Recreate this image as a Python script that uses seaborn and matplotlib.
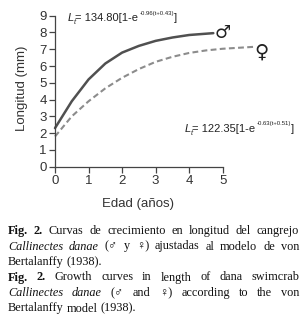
import matplotlib
matplotlib.use("Agg")
import matplotlib.pyplot as plt
import seaborn as sns
import pandas as pd

# ---- data ----
male_t = [0, 0.5, 1, 1.5, 2, 2.5, 3, 3.5, 4, 4.72]
male_L = [2.3, 3.9, 5.2, 6.15, 6.8, 7.2, 7.5, 7.7, 7.85, 7.96]
female_t = [0, 0.5, 1, 1.5, 2, 2.5, 3, 3.5, 4, 4.5, 5, 5.98]
female_L = [1.8, 3.0, 3.9, 4.67, 5.3, 5.82, 6.25, 6.55, 6.78, 6.93, 7.03, 7.15]
x_ticks = [0, 1, 2, 3, 4, 5]
y_ticks = [0, 1, 2, 3, 4, 5, 6, 7, 8, 9]
eq_male = ["L", "t", "= 134.80[1-e", "-0.96(t+0.43)", "]"]
eq_female = ["L", "t", "= 122.35[1-e", "-0.63(t+0.51)", "]"]
x_label = "Edad (años)"
y_label = "Longitud (mm)"

sns.set_style("white")
plt.rcParams["font.family"] = ["Liberation Sans", "DejaVu Sans"]

W, H = 305, 322
fig = plt.figure(figsize=(W / 100, H / 100), dpi=100)
ax = fig.add_axes([55 / W, 1 - 166.7 / H, (222.7 - 55) / W, (166.7 - 15.7) / H])

dm = pd.DataFrame({"t": male_t, "L": male_L})
dfm = pd.DataFrame({"t": female_t, "L": female_L})
sns.lineplot(data=dm, x="t", y="L", ax=ax, color="#505050", lw=1.8)
sns.lineplot(data=dfm, x="t", y="L", ax=ax, color="#8c8c8c", lw=1.5,
             linestyle=(0, (2.8, 1.6)))
for l in ax.lines:
    l.set_clip_on(False)

ax.set_xlim(0, 5)
ax.set_ylim(0, 9)
ax.set_xticks(x_ticks)
ax.set_yticks(y_ticks)
for s in ["top", "right"]:
    ax.spines[s].set_visible(False)
for s in ["left", "bottom"]:
    ax.spines[s].set_color("#444444")
    ax.spines[s].set_linewidth(0.9)
ax.tick_params(axis="both", direction="out", length=4, width=0.9,
               color="#444444", labelsize=9.5, labelcolor="#333333", pad=2)
ax.tick_params(left=True, bottom=True)
ax.set_xlabel(x_label, fontsize=9.5, color="#333333")
ax.set_ylabel(y_label, fontsize=9.5, color="#333333")
ax.xaxis.set_label_coords((138 - 55) / (222.7 - 55), -(197.5 - 166.7) / 151)
ax.yaxis.set_label_coords(-(55 - 28) / (222.7 - 55), 0.52)

r = fig.canvas.get_renderer()


def draw_eq(parts, xpx, basepx):
    specs = [
        (parts[0], 8.0, 0, dict(style="italic"), -0.5),
        (parts[1], 5.3, -3.2, dict(style="italic"), -0.6),
        (parts[2], 8.0, 0, dict(), 1.2),
        (parts[3], 4.3, 6.0, dict(), 0.3),
        (parts[4], 8.0, 0, dict(), 0),
    ]
    x = xpx
    for txt, fs, dy, st, after in specs:
        t = fig.text(x / W, 1 - (basepx - dy) / H, txt, fontsize=fs,
                     color="#222222", va="baseline", ha="left", **st)
        x += t.get_window_extent(r).width + after


draw_eq(eq_male, 68, 21)
draw_eq(eq_female, 185, 131.5)

ax.text(4.99, 7.96, "♂", fontsize=13, color="#222222", va="center",
        ha="center", family=["DejaVu Sans"], clip_on=False)
ax.text(6.17, 6.85, "♀", fontsize=14, color="#222222", va="center",
        ha="center", family=["DejaVu Sans"], clip_on=False)

# ---- caption ----
B = dict(weight="bold")
I = dict(style="italic")
N = dict()
lines = [
    ([("Fig.", B), ("2.", B), ("Curvas", N), ("de", N), ("crecimiento", N), ("en", N),
      ("longitud", N), ("del", N), ("cangrejo", N)], 234, True),
    ([("Callinectes", I), ("danae", I), ("(♂", N), ("y", N), ("♀)", N), ("ajustadas", N),
      ("al", N), ("modelo", N), ("de", N), ("von", N)], 249.5, True),
    ([("Bertalanffy", N), ("(1938).", N)], 265, False),
    ([("Fig.", B), ("2.", B), ("Growth", N), ("curves", N), ("in", N), ("length", N),
      ("of", N), ("dana", N), ("swimcrab", N)], 280.5, True),
    ([("Callinectes", I), ("danae", I), ("(♂", N), ("and", N), ("♀)", N), ("according", N),
      ("to", N), ("the", N), ("von", N)], 296, True),
    ([("Bertalanffy", N), ("model", N), ("(1938).", N)], 311.5, False),
]
cap_fs = 8.8
x0, x1 = 8, 299
for words, ypx, just in lines:
    texts = []
    for w, st in words:
        t = fig.text(0, 1 - ypx / H, w, fontsize=cap_fs, color="#111111",
                     family=["Liberation Serif", "DejaVu Sans"], va="baseline",
                     ha="left", **st)
        texts.append(t)
    widths = [t.get_window_extent(r).width for t in texts]
    if just and len(texts) > 1:
        gap = (x1 - x0 - sum(widths)) / (len(texts) - 1)
    else:
        gap = 3.0
    x = x0
    for t, w in zip(texts, widths):
        t.set_x(x / W)
        x += w + gap

fig.savefig("out.png", dpi=100)
